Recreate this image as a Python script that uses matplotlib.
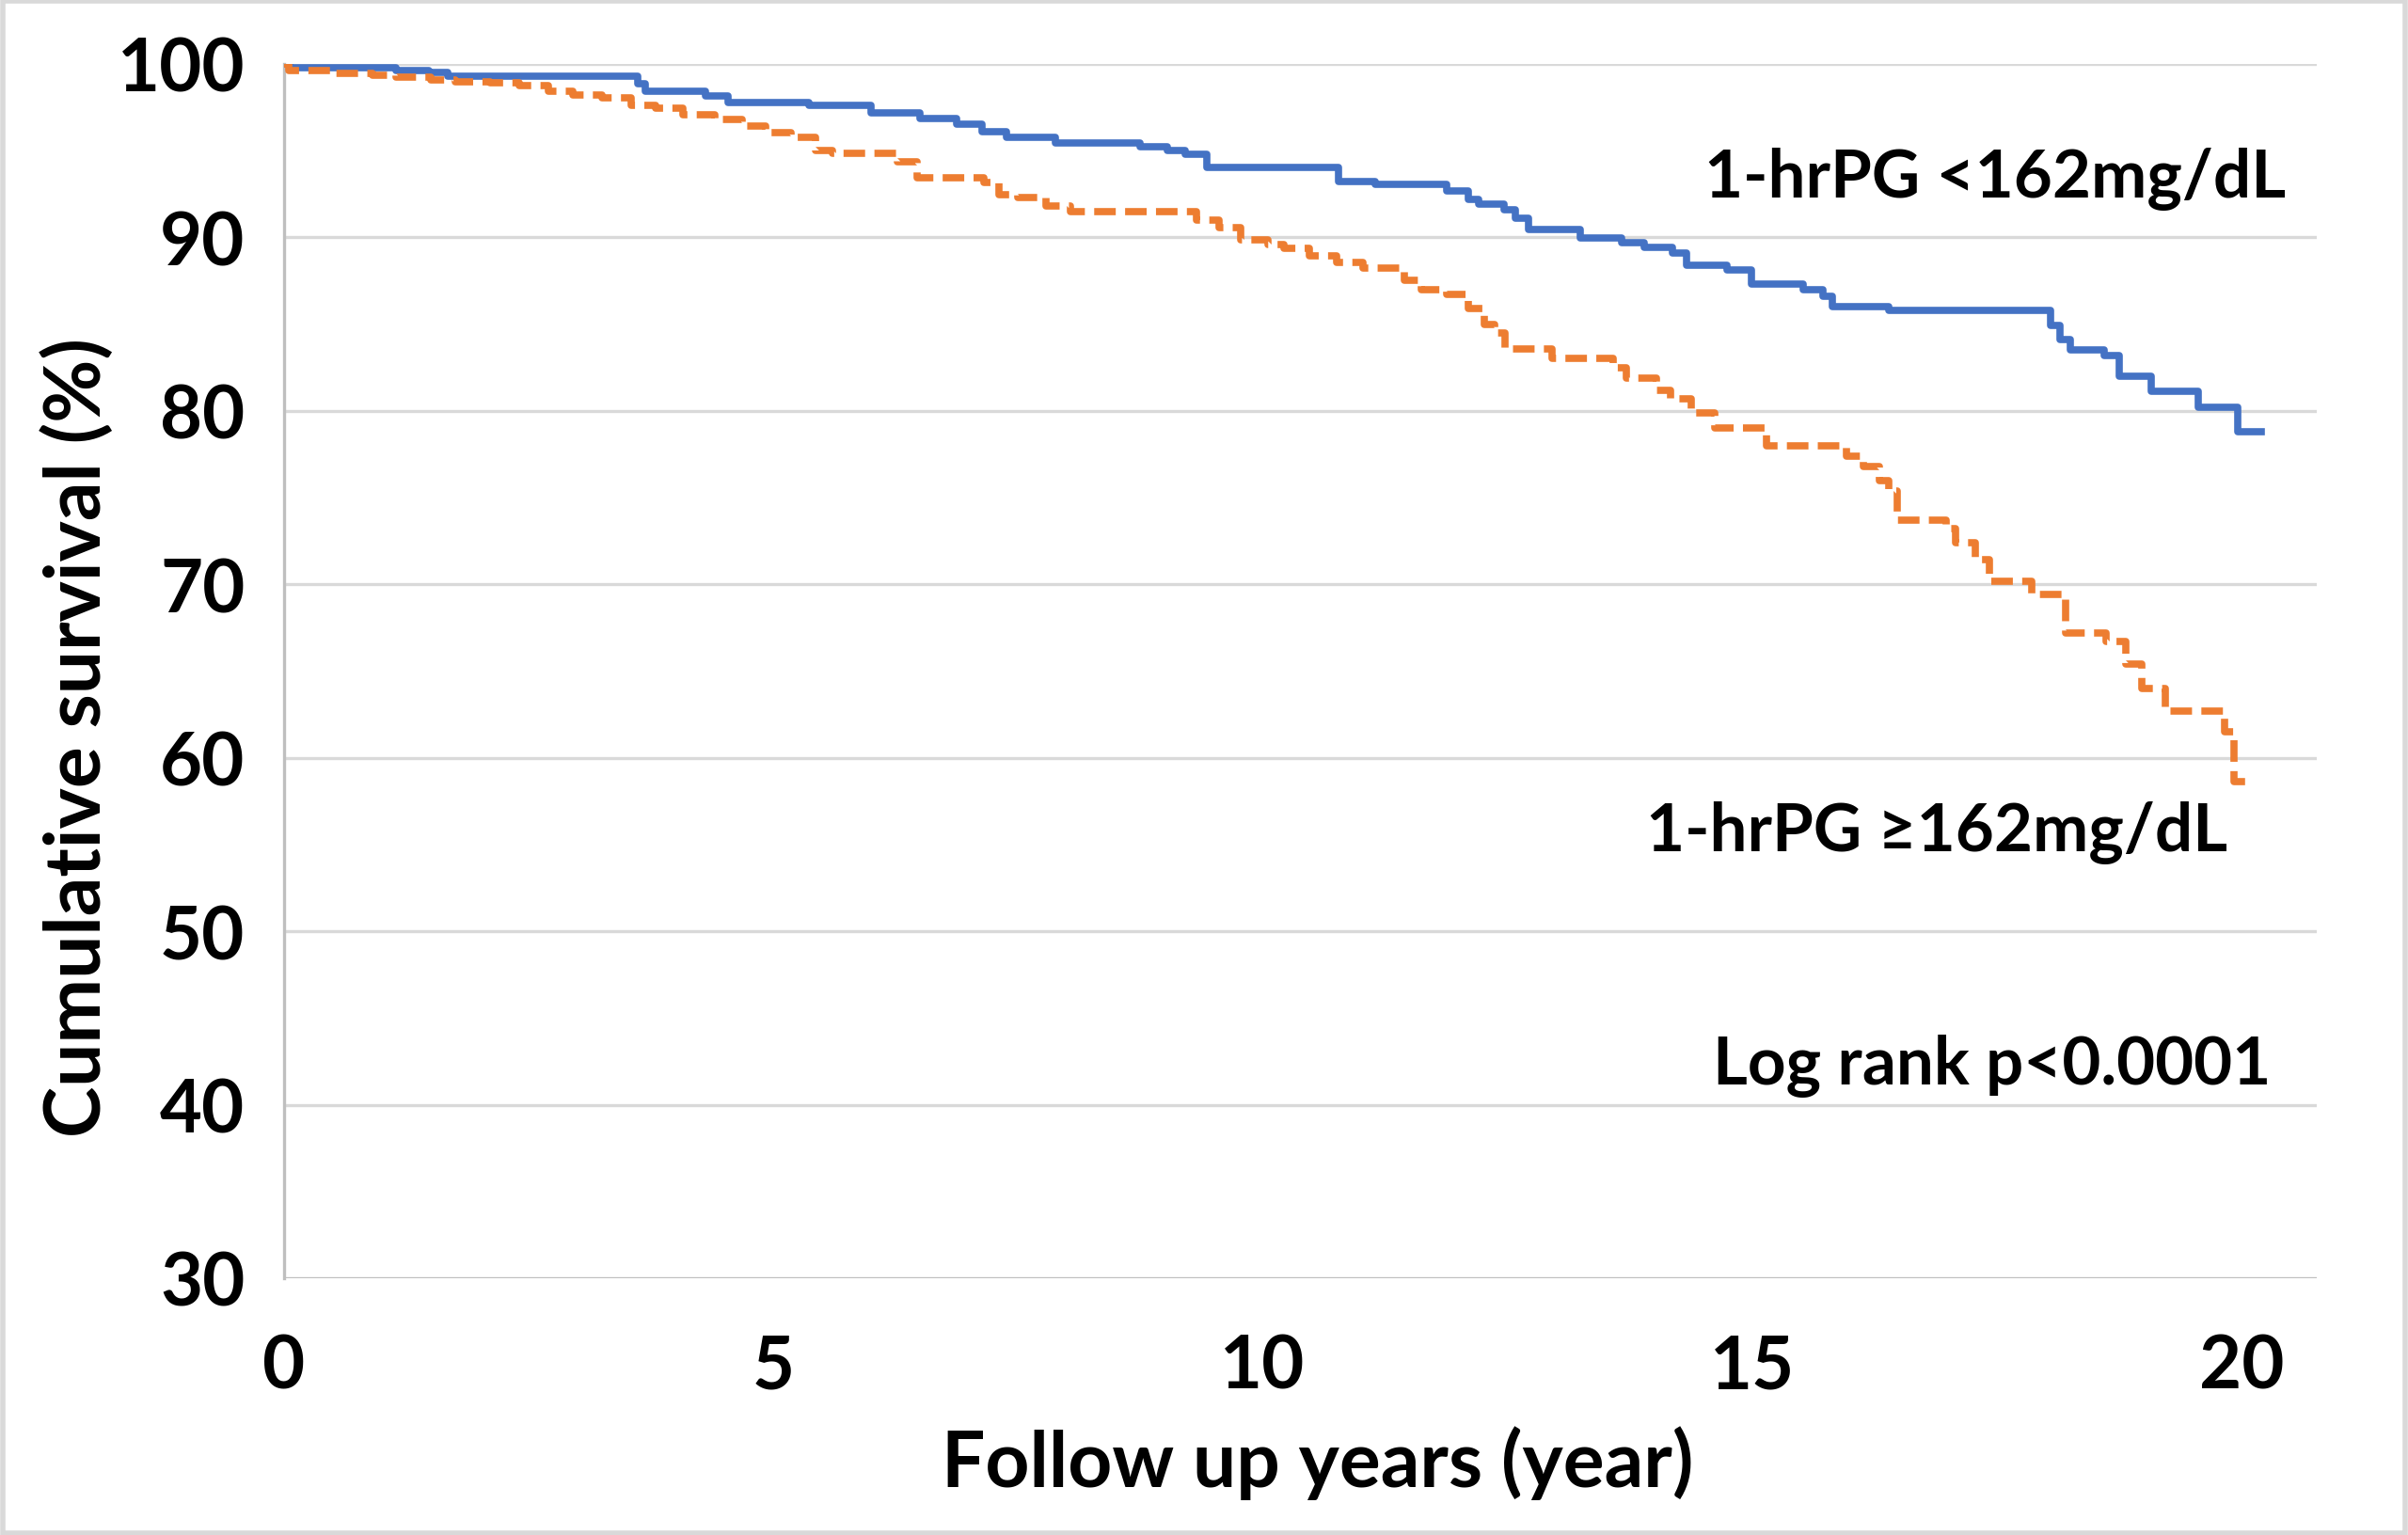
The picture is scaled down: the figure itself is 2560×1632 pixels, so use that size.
import matplotlib
matplotlib.use("Agg")
import matplotlib.pyplot as plt
from matplotlib.patches import Rectangle

# Kaplan-Meier steps: time (years), survival after the step (%)
low_t = [0.0, 0.06, 1.14, 1.48, 1.67, 3.61, 3.69, 4.31, 4.54, 5.36, 6.0, 6.5, 6.87,
         7.13, 7.38, 7.88, 8.75, 9.02, 9.21, 9.43, 10.77, 11.15, 11.88, 12.1, 12.21,
         12.47, 12.58, 12.72, 13.24, 13.67, 13.9, 14.19, 14.33, 14.74, 14.99, 15.52,
         15.72, 15.82, 16.4, 18.05, 18.15, 18.25, 18.6, 18.75, 19.08, 19.56, 19.96, 20.2]
low_s = [100.0, 99.77, 99.64, 99.49, 99.31, 98.86, 98.41, 98.14, 97.78, 97.6, 97.2,
         96.84, 96.52, 96.07, 95.74, 95.43, 95.25, 94.98, 94.8, 94.03, 93.23, 93.05,
         92.7, 92.2, 91.9, 91.6, 91.1, 90.45, 89.95, 89.7, 89.4, 89.1, 88.4, 88.1,
         87.3, 87.0, 86.6, 86.0, 85.8, 84.9, 84.1, 83.5, 83.2, 82.0, 81.1, 80.2, 78.8,
         78.8]

high_t = [0.0, 0.05, 0.5, 0.9, 1.14, 1.5, 1.75, 2.1, 2.4, 2.7, 2.95, 3.25, 3.55, 3.8,
          4.07, 4.4, 4.68, 4.92, 5.18, 5.43, 5.6, 6.27, 6.47, 7.15, 7.3, 7.5, 7.78,
          8.03, 9.32, 9.55, 9.77, 10.05, 10.22, 10.48, 10.75, 11.02, 11.45, 11.62,
          11.88, 12.1, 12.26, 12.37, 12.48, 12.96, 13.58, 13.72, 14.02, 14.17, 14.38,
          14.62, 15.15, 15.96, 16.14, 16.3, 16.4, 16.48, 16.98, 17.08, 17.28, 17.43,
          17.86, 18.2, 18.62, 18.82, 18.98, 19.22, 19.83, 19.92, 20.12]
high_s = [100.0, 99.6, 99.45, 99.35, 99.26, 99.1, 98.95, 98.9, 98.77, 98.41, 98.23,
          98.05, 97.6, 97.47, 97.06, 96.79, 96.43, 96.03, 95.74, 95.0, 94.85, 94.35,
          93.45, 93.18, 92.46, 92.28, 91.82, 91.5, 91.0, 90.56, 89.84, 89.57, 89.35,
          88.94, 88.58, 88.21, 87.5, 87.0, 86.7, 85.9, 85.0, 84.5, 83.55, 83.0, 82.5,
          81.9, 81.2, 80.7, 79.9, 79.0, 78.0, 77.4, 76.8, 76.0, 75.4, 73.7, 73.2, 72.4,
          71.4, 70.2, 69.4, 67.2, 66.7, 65.4, 64.0, 62.7, 61.5, 58.6, 58.6]

x_ticks = [0, 5, 10, 15, 20]
y_ticks = [30, 40, 50, 60, 70, 80, 90, 100]

plt.rcParams['font.family'] = ['Lato', 'DejaVu Sans']
plt.rcParams['font.weight'] = 'bold'

fig = plt.figure(figsize=(25.6, 16.33), dpi=100)
ax = fig.add_axes([0.118, 0.1672, 0.8441, 0.7906])

# gridlines drawn by hand so the bottom one can be darker like the axis line
for yv in y_ticks[1:]:
    ax.axhline(yv, color='#D9D9D9', lw=2.4, zorder=1)
ax.axhline(30, color='#BFBFBF', lw=2.4, zorder=1)

ax.step(low_t, low_s, where='post', color='#4472C4', lw=5.5, zorder=3)
ax.step(high_t, high_s, where='post', color='#ED7D31', lw=5.5,
        ls=(0, (3.0, 1.3)), dash_capstyle='butt', zorder=3)

ax.set_xlim(0, 20.77)
ax.set_ylim(30, 100)
ax.set_xticks(x_ticks)
ax.set_yticks(y_ticks)
ax.tick_params(length=0, labelsize=56)
ax.tick_params(axis='x', pad=42)
ax.tick_params(axis='y', pad=30)
for lab in ax.get_xticklabels() + ax.get_yticklabels():
    lab.set_fontweight('bold')

for s in ['top', 'right', 'bottom']:
    ax.spines[s].set_visible(False)
ax.spines['left'].set_color('#BFBFBF')
ax.spines['left'].set_linewidth(2.4)

ax.text(20.45, 93.4, '1-hrPG <162mg/dL', ha='right', va='center',
        fontsize=51, fontweight='bold')
ax.text(19.86, 55.7, '1-hrPG \u2265162mg/dL', ha='right', va='center',
        fontsize=51, fontweight='bold')
ax.text(20.3, 42.3, 'Log rank p<0.0001', ha='right', va='center',
        fontsize=51, fontweight='bold')

fig.text(1401 / 2560, 1 - 1556 / 1633, 'Follow up years (year)', ha='center',
         va='center', fontsize=59, fontweight='bold')
fig.text(82 / 2560, 1 - 784 / 1633, 'Cumulative survival (%)', ha='center',
         va='center', rotation=90, fontsize=59, fontweight='bold')

# light grey frame round the whole picture
fig.patches.append(Rectangle((0.001, 0.0015), 0.998, 0.997, transform=fig.transFigure,
                             fill=False, edgecolor='#D9D9D9', lw=4))

fig.savefig('out.png', dpi=100)
